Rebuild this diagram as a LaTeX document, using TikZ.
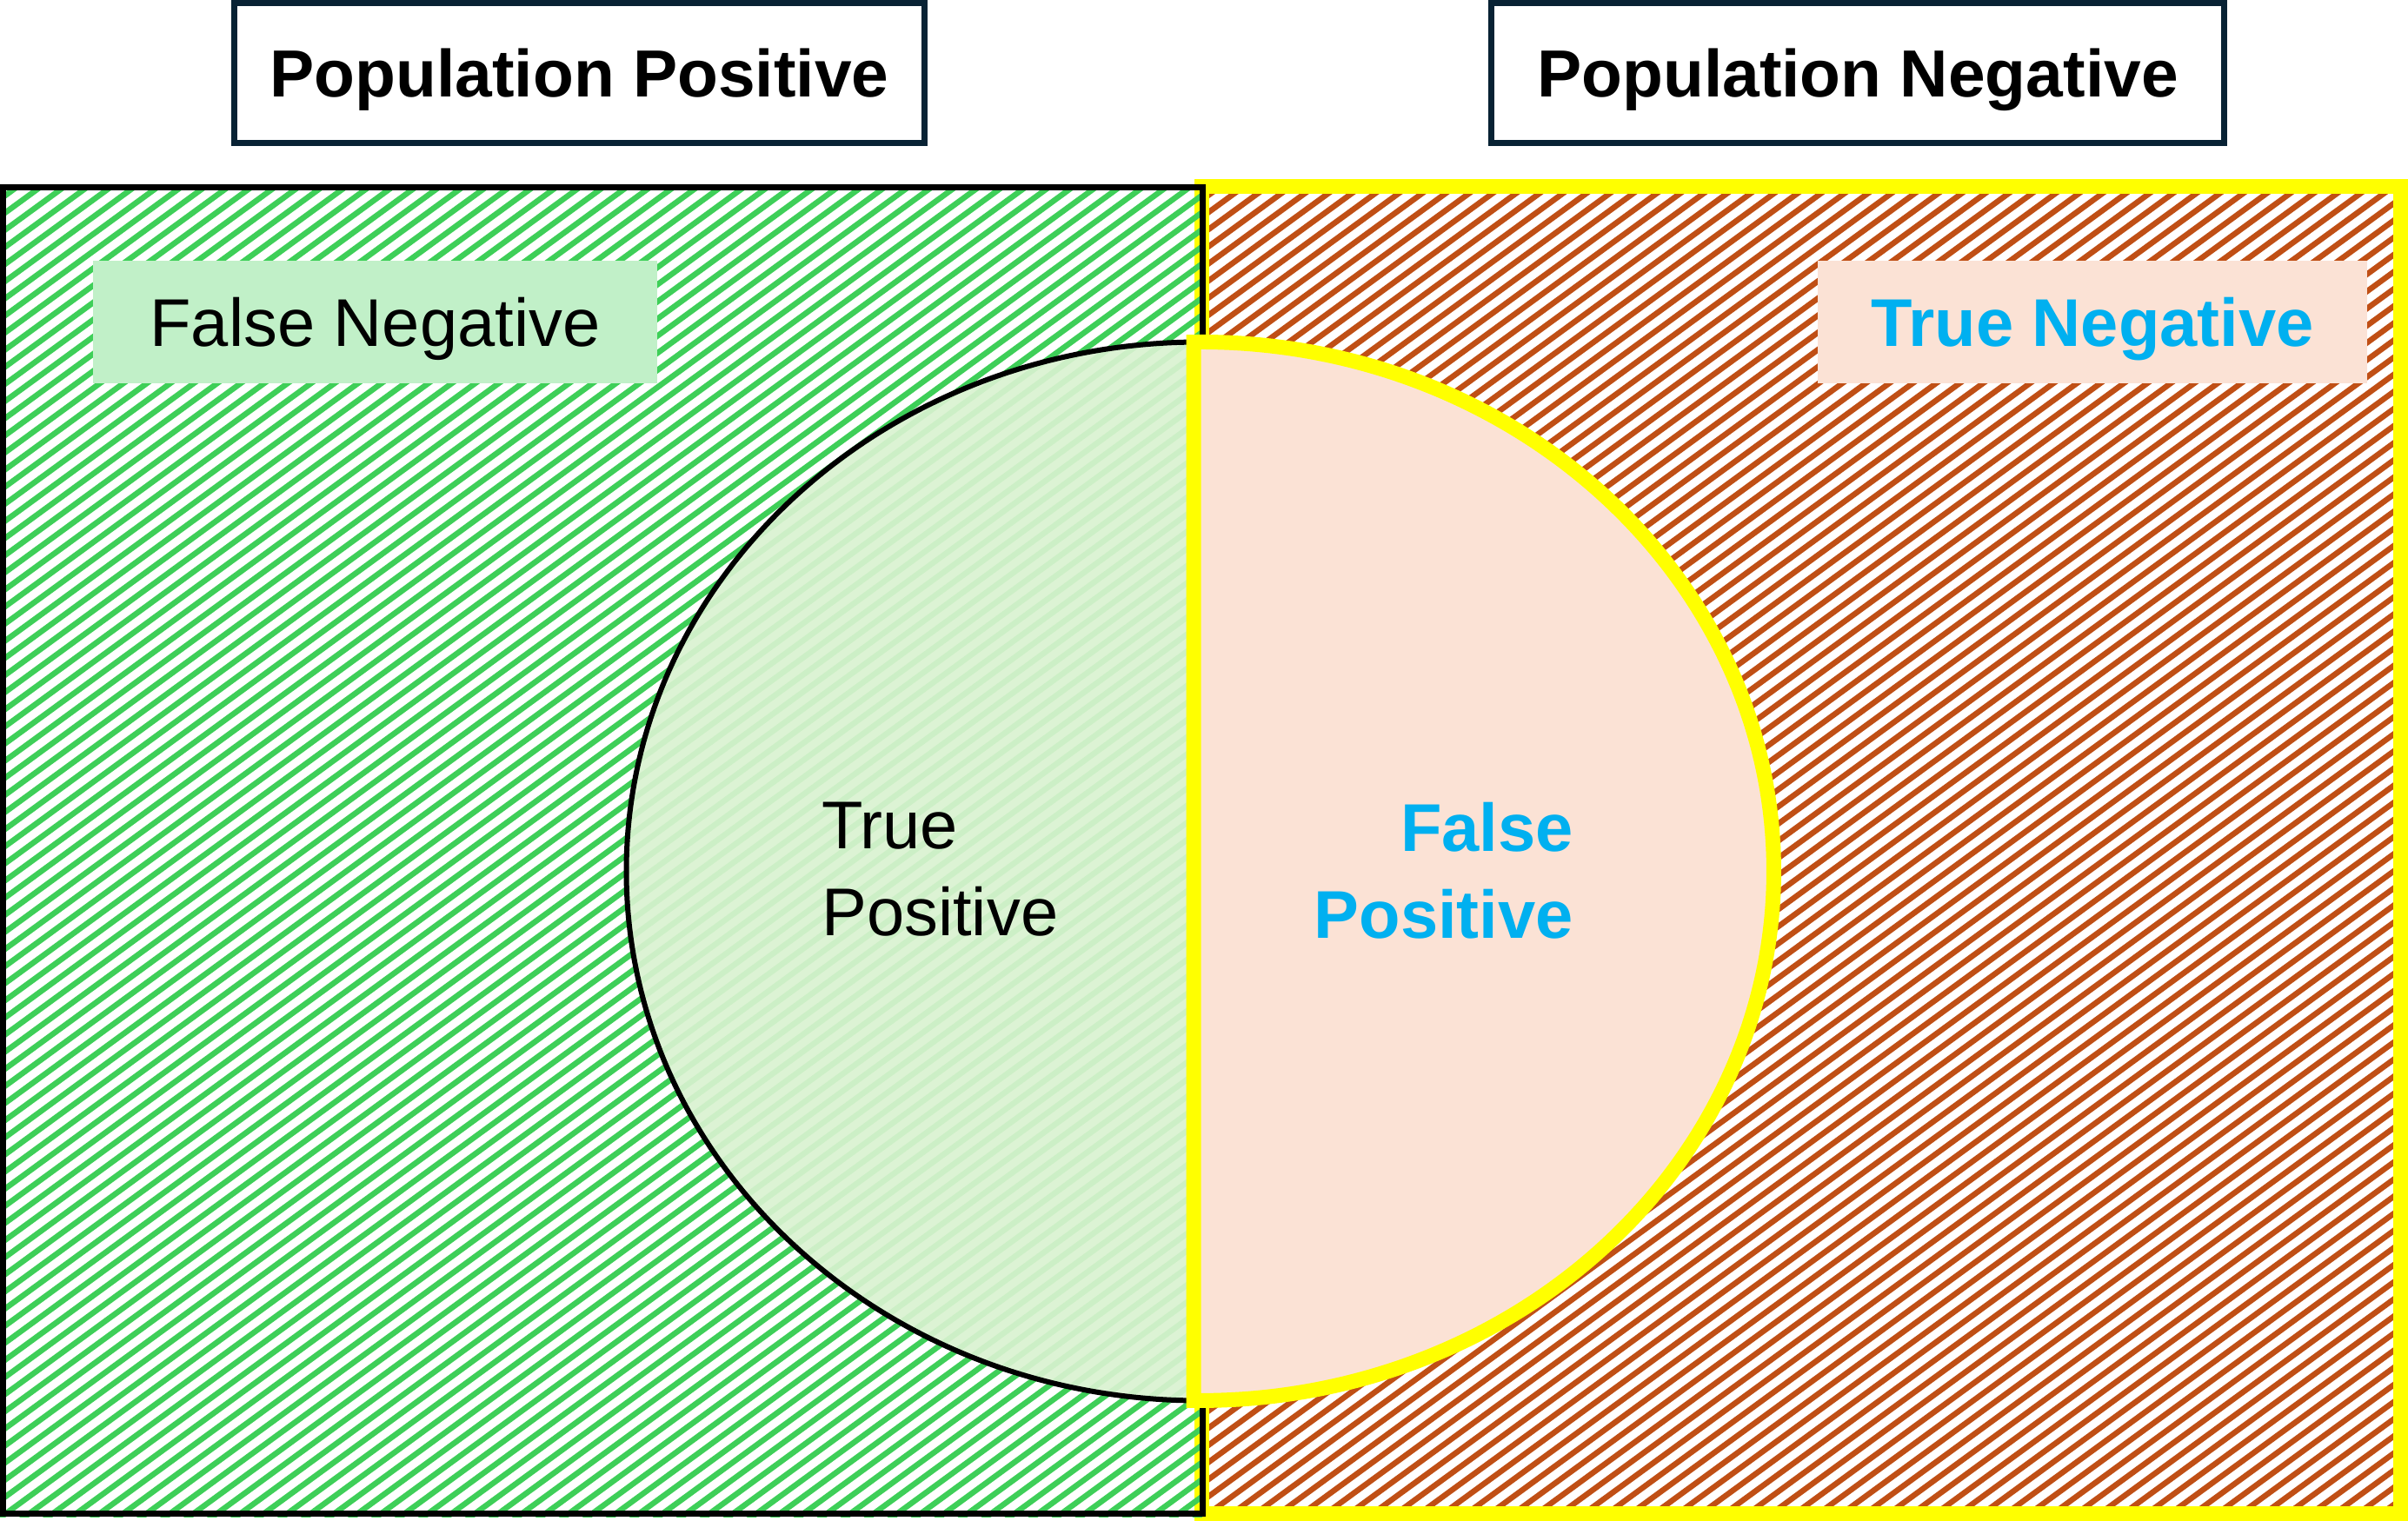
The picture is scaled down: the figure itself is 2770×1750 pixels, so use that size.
\documentclass[tikz,border=0pt]{standalone}
\usepackage{fontspec}
\setmainfont{Liberation Sans}
\definecolor{boxline}{RGB}{8,34,52}
\definecolor{posstripe}{RGB}{62,207,88}
\definecolor{negstripe}{RGB}{192,79,21}
\definecolor{fnfill}{RGB}{193,240,200}
\definecolor{tpfill}{RGB}{217,242,208}
\definecolor{negfill}{RGB}{251,226,213}
\definecolor{hiblue}{RGB}{0,176,240}
\definecolor{hiyellow}{RGB}{255,255,0}
\begin{document}
\begin{tikzpicture}[x=1bp,y=-1bp,
  popbox/.style={draw=boxline, line width=7bp, fill=white, inner sep=0pt,
    minimum width=794bp, minimum height=161bp,
    font=\fontsize{77}{92}\selectfont\bfseries, text height=55.1bp, text depth=0pt},
  tagbox/.style={inner sep=0pt, minimum width=649bp, minimum height=141bp,
    text height=55.8bp, text depth=0pt},
  regular/.style={font=\fontsize{78}{100}\selectfont},
  heavy/.style={font=\fontsize{78}{100}\selectfont\bfseries, text=hiblue},
  poshatch/.style={draw=posstripe, line width=6.5bp},
  neghatch/.style={draw=negstripe, line width=6.5bp}]

\useasboundingbox (0,0) rectangle (2770,1750);

% hatched background of the negative population
\begin{scope}
  \clip (1382,214.5) rectangle (2770,1750);
  \foreach \c in {1200,1219.7,...,3800}
    \draw[neghatch] (1370,{\c-1000.1}) -- (2780,{\c-2029.4});
\end{scope}
\draw[hiyellow, line width=17bp] (1382,214.5) rectangle (2761,1741.5);

% hatched background of the positive population
\begin{scope}
  \clip (0,212) rectangle (1386,1745);
  \foreach \c in {190,209.7,...,2780}
    \draw[poshatch] (-10,{\c+7.3}) -- (1400,{\c-1022});
\end{scope}
\draw[black, line width=7bp] (3.5,215.5) rectangle (1383,1741.5);

% predicted positive: left half over the positive population
\begin{scope}
  \clip (0,0) rectangle (1373,1750);
  \fill[tpfill, fill opacity=0.92] (1380.5,1002.5) ellipse [x radius=660, y radius=609];
  \draw[black, line width=6bp] (1380.5,1002.5) ellipse [x radius=660, y radius=609];
\end{scope}

% predicted positive: right half over the negative population
\draw[hiyellow, line width=17bp, fill=negfill, line join=miter]
  (1373,393.5) arc [start angle=-90.65, end angle=90.65, x radius=660, y radius=609] -- cycle;

% headings
\node[popbox] (popPos) at (666.5,84) {Population Positive};
\node[popbox, minimum width=843bp] (popNeg) at (2137,84) {Population Negative};

% corner tags
\node[tagbox, fill=fnfill, regular] (falseNeg) at (431.5,370.5) {False Negative};
\node[tagbox, fill=negfill, minimum width=632bp, heavy] (trueNeg) at (2407,370.5) {True Negative};

% labels inside the ellipse
\node[regular, align=left, inner sep=0pt, anchor=north west] (truePos) at (945,923) {True\\Positive};
\node[heavy, align=right, inner sep=0pt, anchor=north east] (falsePos) at (1810,923) {False\\Positive};

\end{tikzpicture}
\end{document}
